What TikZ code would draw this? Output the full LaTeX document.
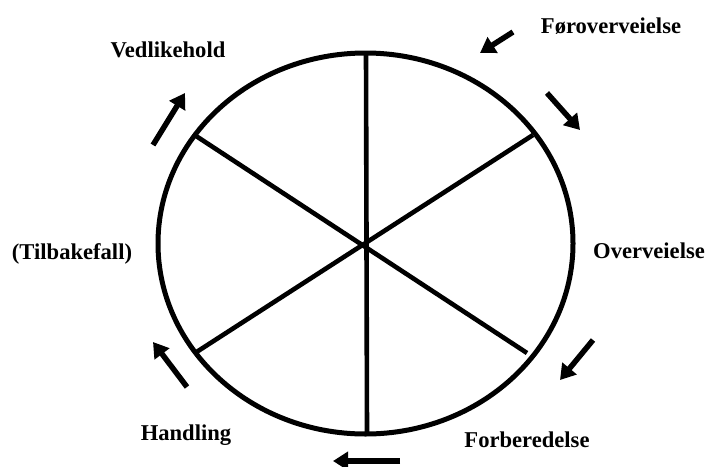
\documentclass[tikz,border=0pt]{standalone}
\usepackage{fontspec}
\setmainfont{Liberation Serif}
\usetikzlibrary{arrows.meta}
\begin{document}
\begin{tikzpicture}[x=1pt,y=-1pt,
  lbl/.style={font=\fontsize{22.6}{27}\selectfont\bfseries, inner sep=0pt, anchor=base},
  wheel/.style={line width=5pt, black},
  spoke/.style={line width=4.6pt, black},
  cyc/.style={line width=5.5pt, black, -{Triangle[length=15pt,width=18pt]}}]
\useasboundingbox (0,0) rectangle (711,466);
\fill[white] (0,0) rectangle (711,466);
% wheel
\draw[wheel] (365.5,243.5) ellipse [x radius=207.5, y radius=190.5];
\coordinate (c) at (367,253);
\coordinate (t) at (366,53);
\coordinate (b) at (367,434);
\coordinate (ul) at (193,134);
\coordinate (ur) at (533,135);
\coordinate (ll) at (195,353);
\coordinate (lr) at (527,353);
\draw[spoke] (t) -- (b);
\draw[spoke] (ul) -- (lr);
\draw[spoke] (ur) -- (ll);
% labels
\node[lbl] (foro) at (611,33) {Føroverveielse};
\node[lbl] (over) at (649,258) {Overveielse};
\node[lbl] (forb) at (527,447) {Forberedelse};
\node[lbl] (hand) at (186,440) {Handling};
\node[lbl] (tilb) at (72,259) {(Tilbakefall)};
\node[lbl] (vedl) at (168,57) {Vedlikehold};
% arrows
\coordinate (a1s) at (513,32); \coordinate (a1e) at (480,53);
\coordinate (a2s) at (547,93); \coordinate (a2e) at (580,130);
\coordinate (a3s) at (593,340); \coordinate (a3e) at (560,380);
\coordinate (a4s) at (400,461); \coordinate (a4e) at (333,461);
\coordinate (a5s) at (187,387); \coordinate (a5e) at (153,342);
\coordinate (a6s) at (153,145); \coordinate (a6e) at (185,93);
\draw[cyc] (a1s) -- (a1e);
\draw[cyc] (a2s) -- (a2e);
\draw[cyc] (a3s) -- (a3e);
\draw[cyc] (a4s) -- (a4e);
\draw[cyc] (a5s) -- (a5e);
\draw[cyc] (a6s) -- (a6e);
\end{tikzpicture}
\end{document}
